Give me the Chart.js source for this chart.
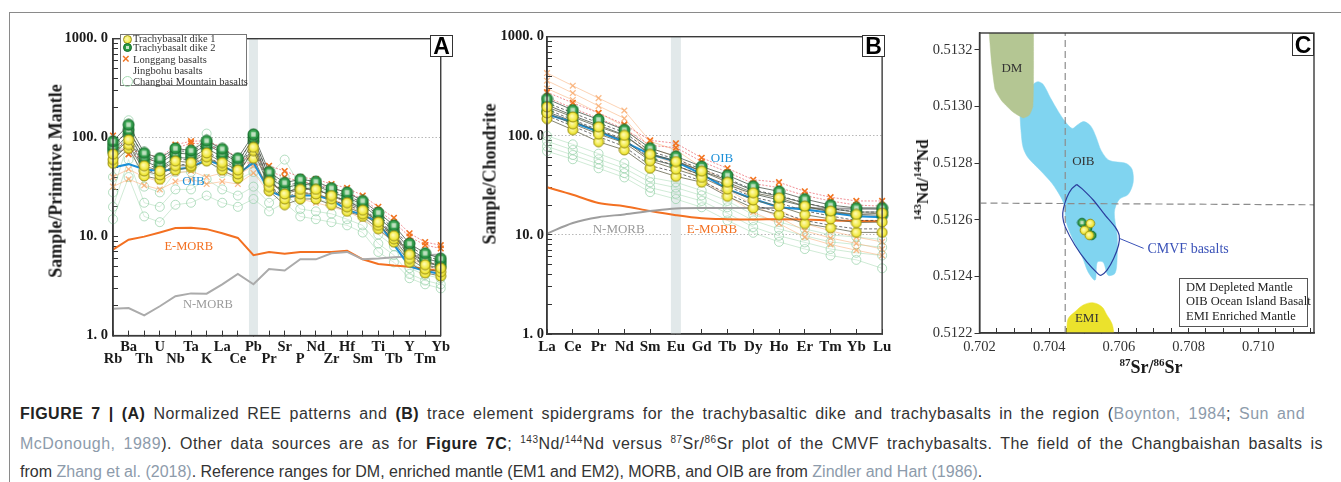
<!DOCTYPE html>
<html>
<head>
<meta charset="utf-8">
<script src="https://cdn.jsdelivr.net/npm/chart.js@4.4.1/dist/chart.umd.min.js"></script>
<style>
  body { margin: 0; width: 1341px; height: 482px; background: #fff; position: relative; overflow: hidden; font-family: "Liberation Serif", serif; }
  .abs { position: absolute; }
  canvas { position: absolute; }
  #frame { left: 9px; top: 12px; right: 0; bottom: 0; border-left: 1px solid #8a8a8a; border-top: 1px solid #8a8a8a; }
  .ytitle { position: absolute; font: bold 18px "Liberation Serif", serif; color: #1a1a1a; white-space: nowrap; transform: translate(-50%, -50%) rotate(-90deg); }
  .xtitle { position: absolute; font: bold 18px "Liberation Serif", serif; color: #1a1a1a; white-space: nowrap; transform: translate(-50%, -50%); }
  .ytitle sup, .xtitle sup { font-size: 11px; line-height: 0; }
  .letter { position: absolute; border: 1px solid #333; background: #fff; font: bold 23px "Liberation Sans", Arial, sans-serif; color: #000; text-align: center; box-sizing: border-box; }
  #legA { left: 120px; top: 34px; width: 127px; height: 52px; border: 1px solid #777; background: #fff; box-sizing: border-box; font-size: 10.5px; color: #333; }
  #legA .row { position: absolute; left: 12px; line-height: 10px; white-space: nowrap; }
  #legA .mk { position: absolute; box-sizing: border-box; }
  #legC { left: 1179px; top: 278px; width: 129px; height: 49px; border: 1px solid #555; background: #fff; box-sizing: border-box; font-size: 12.5px; color: #222; }
  #legC div { position: absolute; left: 6px; white-space: nowrap; line-height: 14px; }
  .cap { position: absolute; left: 20px; font: 16px "Liberation Sans", Arial, sans-serif; color: #333; line-height: 29px; white-space: nowrap; }
  .cap b { color: #222; }
  .cap .ref { color: #8d9bab; }
  .cap sup { font-size: 10px; line-height: 0; }
</style>
</head>
<body>
<div id="frame" class="abs"></div>

<canvas id="cA" width="450" height="360" style="left:10px;top:20px"></canvas>
<canvas id="cB" width="440" height="360" style="left:460px;top:20px"></canvas>
<canvas id="cC" width="441" height="360" style="left:900px;top:20px"></canvas>

<div class="ytitle" style="left:56px;top:181px">Sample/Primitive Mantle</div>
<div class="ytitle" style="left:490px;top:174px">Sample/Chondrite</div>
<div class="ytitle" style="left:923px;top:180px;font-size:17px"><sup>143</sup>Nd/<sup>144</sup>Nd</div>
<div class="xtitle" style="left:1151px;top:367px"><sup>87</sup>Sr/<sup>86</sup>Sr</div>

<div class="letter" style="left:430px;top:35px;width:23px;height:22px;line-height:21px">A</div>
<div class="letter" style="left:862px;top:35px;width:23px;height:22px;line-height:21px">B</div>
<div class="letter" style="left:1292px;top:33px;width:22px;height:23px;line-height:22px">C</div>

<div id="legA" class="abs">
  <span class="mk" style="left:2px;top:0px;width:9px;height:9px;border-radius:50%;background:radial-gradient(circle at 40% 40%,#fffab0,#ece21c);border:1px solid #9a9015"></span>
  <div class="row" style="top:-1px">Trachybasalt dike 1</div>
  <span class="mk" style="left:2px;top:8px;width:9px;height:9px;border-radius:50%;background:#2a9a44;border:1px solid #156a2a"></span>
  <span class="mk" style="left:5px;top:11px;width:3px;height:3px;background:#c8e6c8"></span>
  <div class="row" style="top:8px">Trachybasalt dike 2</div>
  <span class="mk" style="left:1px;top:17px;font:bold 13px 'Liberation Sans',sans-serif;color:#f27420;line-height:14px">×</span>
  <div class="row" style="top:20px">Longgang basalts</div>
  <div class="row" style="top:31px">Jingbohu basalts</div>
  <span class="mk" style="left:1px;top:41px;width:11px;height:11px;border-radius:50%;border:1px solid #a8dcb4"></span>
  <div class="row" style="top:42px">Changbai Mountain basalts</div>
</div>

<div id="legC" class="abs">
  <div style="top:1px">DM Depleted Mantle</div>
  <div style="top:15px">OIB Ocean Island Basalt</div>
  <div style="top:30px">EMI Enriched Mantle</div>
</div>

<div class="cap" id="cap1" style="top:399px"><b>FIGURE 7 | (A)</b> Normalized REE patterns and <b>(B)</b> trace element spidergrams for the trachybasaltic dike and trachybasalts in the region (<span class="ref">Boynton, 1984</span>; <span class="ref">Sun and</span></div>
<div class="cap" id="cap2" style="top:429px"><span class="ref">McDonough, 1989</span>). Other data sources are as for <b>Figure 7C</b>; <sup>143</sup>Nd/<sup>144</sup>Nd versus <sup>87</sup>Sr/<sup>86</sup>Sr plot of the CMVF trachybasalts. The field of the Changbaishan basalts is</div>
<div class="cap" id="cap3" style="top:457px">from <span class="ref">Zhang et al. (2018)</span>. Reference ranges for DM, enriched mantle (EM1 and EM2), MORB, and OIB are from <span class="ref">Zindler and Hart (1986)</span>.</div>

<script>
// ---- panel A: primitive-mantle normalised trace elements ----
const elemA = ['Rb','Ba','Th','U','Nb','Ta','K','La','Ce','Pb','Pr','Sr','P','Nd','Zr','Hf','Sm','Ti','Tb','Y','Tm','Yb'];

const dike1A = [
  [68,95,52,46,58,56,70,56,47,80,36,27,30,30,26,22,18.5,14,10.2,6.6,5.2,4.8],
  [60,85,46,42,52,52,64,52,43,74,32,24,27,27,24,20,17,13,9.5,6.0,4.7,4.4],
  [55,78,41,38,47,50,58,47,39,62,29,21,24,24,21,18,16,12,8.8,5.5,4.3,4.0]
];
const dike2A = [
  [92,135,70,62,78,74,93,77,62,108,45,35,38,36,31,28,23,17.5,13,8.5,6.8,6.0],
  [82,120,64,55,70,68,85,70,56,100,40,31,34,33,28,25,21,15.5,11.5,7.5,6.0,5.5],
  [74,108,58,50,63,62,78,64,50,92,36,28,31,30,26,23,19,14,10.5,6.8,5.5,5.0]
];
const longgangA = [
  [105,75,70,62,85,92,93,80,62,62,52,46,40,38,34,31,26,20,15.5,10.8,8.8,8.2],
  [88,68,62,56,78,88,86,72,55,56,46,40,36,34,31,28,24,18.5,14,10,8.2,7.6]
];
const longgangLightA = [
  [40,48,40,36,44,46,40,44,42,52,34,30,28,27,24,21,17,13,10,7,5.6,5.2],
  [32,38,33,30,36,38,34,36,34,44,28,26,24,22,20,18,15,11.5,9,6.2,5,4.6]
];
const jingbohuA = [
  [85,115,66,58,74,72,88,74,58,95,42,33,35,34,29,26,22,16.5,12,8,6.4,5.7],
  [70,100,55,48,60,60,72,60,48,85,37,28,31,30,26,23,19.5,14.5,10.8,7,5.6,5.1],
  [60,90,48,43,53,54,65,53,42,78,33,25,28,27,23,21,18,13.5,10,6.4,5.1,4.7]
];
const changbaiA = [
  [40,150,45,40,70,70,110,65,55,60,42,60,33,30,28,24,20,13,9.5,5.5,4.6,4.2],
  [28,95,32,28,45,45,60,44,38,45,30,40,25,24,22,19,16,10.5,8,4.8,4.1,3.8],
  [20,60,22,20,30,30,38,30,26,32,22,28,19,18,17,15,13,8.5,6.5,4.2,3.6,3.3],
  [15,40,16,14,21,22,26,22,20,24,18,22,16,15,14,13,11,7,5.5,3.8,3.3,3.0]
];
const oibA   = [50,54,48,46,48,50,60,52,43,56,29,25,26,26,23.5,18.6,16.6,14,8.3,5,4.5,4.2];
const emorbA = [7.4,9.3,10,11,12.2,12.3,11.9,10.8,9.7,6.5,7,6.7,7,7,7,7.2,5.9,5.3,5.1,4.95,4.7,4.5];
const nmorbA = [1.87,1.9,1.6,1.98,2.5,2.67,2.65,3.3,4.2,3.3,4.7,4.55,5.9,5.9,6.8,7,5.9,6,6.2,6.3,6.5,6.6];

// ---- panel B: chondrite normalised REE ----
const elemB = ['La','Ce','Pr','Nd','Sm','Eu','Gd','Tb','Dy','Ho','Er','Tm','Yb','Lu'];

const dike1B = [
  [195,155,123,101,65,55,44,34,26.6,23.7,19.5,17.4,16.1,16.6],
  [170,132,104,85,56,46,38,29,22.5,19.5,16,14.5,13.3,13.5],
  [149,115,87,72,47,39,34,24.5,18.7,16,13,11.8,10.6,10.6]
];
const dike2B = [
  [236,182,146,115,75,62,49,40,31,27.5,23,20,18.7,18.7],
  [205,160,128,102,66,56,44,36,28,24.5,21,18.3,17,17],
  [175,140,112,90,58,50,40,32,26,22.5,19.5,17,16,15.8]
];
const longgangB = [
  [275,215,170,130,90,84,60,47,36,34,27.5,24,22,22],
  [245,190,150,118,80,76,55,43,33,30,25,22,20,19.5]
];
const longgangLightB = [
  [430,320,240,180,88,72,48,34,24,18,13,11,9.5,8.5],
  [360,270,200,150,75,62,42,29,20,15,11,9.3,8.2,7.2],
  [300,230,170,125,65,52,36,25,17,13,9.5,8,7,6.2]
];
const jingbohuB = [
  [215,170,135,108,70,58,46,37,28.5,25,21,18.5,17,17],
  [185,145,115,92,60,50,40,31,24,21,17.5,15.5,14,14],
  [160,125,98,78,50,43,35,26,20,17,14,12.5,11.5,11.5]
];
const changbaiB = [
  [100,82,66,53,38,34,28,22,16,13.5,11.5,10,9.5,9],
  [88,72,58,47,34,30,25,19,14,11.5,9.8,8.5,8,7.5],
  [78,64,52,42,30,26,22,16.5,12,9.8,8.4,7.2,6.6,6.2],
  [70,58,47,38,27,23,19,14,10.5,8.5,7.2,6.2,5.6,4.6]
];
const oibB   = [165,137,110,87,65,55,41,29,23,19,18,16.7,15.4,15.1];
const emorbB = [30.2,25.4,21,19.5,17.4,15.8,14.7,14.4,14.3,14.4,14.3,14,13.8,13.7];
const nmorbB = [10.3,13.2,15.1,16.1,17.4,18.5,18.7,18.7,18.7,18.7,18.6,18.5,18.4,18.3];

const logTicks = [1,2,3,4,5,6,7,8,9,10,20,30,40,50,60,70,80,90,100,200,300,400,500,600,700,800,900,1000];
const logLabels = {1:'1. 0', 10:'10. 0', 100:'100. 0', 1000:'1000. 0'};

// ---- panel C: Sr-Nd isotopes ----
const dmField = [[0.70228,0.51330],[0.70228,0.51326],[0.70235,0.51315],[0.70245,0.51306],[0.70264,0.51302],[0.70297,0.51298],
  [0.70326,0.51296],[0.70343,0.51297],[0.70353,0.51300],[0.70355,0.51309],[0.70355,0.51330]];
const oibField = [[0.70316,0.512975],[0.70337,0.513035],[0.70354,0.513078],[0.70368,0.513088],[0.70383,0.513078],[0.70403,0.513032],
  [0.70426,0.512983],[0.70446,0.512947],[0.70466,0.512923],[0.70483,0.512937],[0.70500,0.512947],[0.70520,0.51293],[0.70535,0.512891],
  [0.70549,0.512845],[0.70572,0.51281],[0.70621,0.512799],[0.70638,0.512778],[0.70641,0.512732],[0.70627,0.51269],[0.70601,0.512672],
  [0.70587,0.512627],[0.70595,0.512545],[0.70595,0.512464],[0.70589,0.512411],[0.70569,0.512404],[0.70555,0.51245],[0.70538,0.51245],
  [0.70532,0.512387],[0.70512,0.512415],[0.70495,0.512468],[0.70469,0.512528],[0.70449,0.512591],[0.70443,0.512651],[0.70434,0.512679],
  [0.70408,0.512729],[0.70374,0.512775],[0.70339,0.51282],[0.70325,0.512856],[0.70319,0.512916],[0.70316,0.512975]];
const emiField = [[0.70450,0.51218],[0.70451,0.512222],[0.70455,0.512252],[0.70474,0.512275],[0.70498,0.512299],[0.70525,0.512307],
  [0.70551,0.512293],[0.70566,0.512263],[0.70580,0.512234],[0.70585,0.512205],[0.70586,0.51218]];
const cmvfField = [[0.70479,0.512725],[0.70494,0.51271],[0.70527,0.512669],[0.70561,0.512616],[0.70589,0.512575],[0.70601,0.512545],
  [0.70599,0.51251],[0.70585,0.512463],[0.70566,0.512422],[0.70549,0.512404],[0.70541,0.512408],[0.70508,0.512451],[0.70474,0.51251],
  [0.70446,0.512575],[0.70439,0.51261],[0.70441,0.51264],[0.70451,0.51268],[0.70465,0.51271],[0.70479,0.512725]];
const cmvfLeader = [[0.70602,0.512534],[0.70671,0.512499]];
const dike1C = [[0.70518,0.512587],[0.70501,0.512563],[0.70515,0.512545]];
const dike2C = [[0.70494,0.51259],[0.70522,0.512545],[0.70510,0.51257]];
const srLine = [[0.70446,0.5122],[0.70446,0.51326]];
const ndLine = [[0.702,0.512659],[0.7116,0.512653]];
const cXTicks = [0.702,0.7025,0.703,0.7035,0.704,0.7045,0.705,0.7055,0.706,0.7065,0.707,0.7075,0.708,0.7085,0.709,0.7095,0.71,0.7105,0.711,0.7115];
const cXLabelled = [0.702,0.704,0.706,0.708,0.710];
const cYTicks = [0.5122,0.5124,0.5126,0.5128,0.5130,0.5132];

Chart.defaults.font.family = "'Liberation Serif', serif";

function ballImage(r, inner, edge, rim, square) {
  const s = Math.ceil(r * 2 + 2);
  const c = document.createElement('canvas');
  c.width = c.height = s;
  const g = c.getContext('2d');
  const grad = g.createRadialGradient(s * 0.42, s * 0.42, 0.5, s / 2, s / 2, r);
  grad.addColorStop(0, inner);
  grad.addColorStop(1, edge);
  g.beginPath();
  g.arc(s / 2, s / 2, r, 0, Math.PI * 2);
  g.fillStyle = grad;
  g.fill();
  g.lineWidth = 1;
  g.strokeStyle = rim;
  g.stroke();
  if (square) {
    const q = r * 0.8;
    g.fillStyle = square;
    g.fillRect(s / 2 - q / 2, s / 2 - q / 2, q, q);
  }
  return c;
}
const yellowBig = ballImage(5, '#fffbb0', '#ebe11a', '#9a9015');
const greenBig = ballImage(5.5, '#5cc070', '#1f8a3a', '#156a2a', '#bfe0c0');
const yellowSmall = ballImage(4.3, '#fffbb0', '#ebe11a', '#9a9015');
const greenSmall = ballImage(4.3, '#5cc070', '#1f8a3a', '#156a2a', '#bfe0c0');

const bandPlugin = {
  id: 'band',
  beforeDatasetsDraw(chart, args, opts) {
    if (opts.at == null) return;
    const {ctx, chartArea} = chart;
    const x = chart.scales.x.getPixelForValue(opts.at);
    ctx.save();
    ctx.fillStyle = '#e2e9ea';
    ctx.fillRect(x - opts.width / 2, chartArea.top, opts.width, chartArea.bottom - chartArea.top);
    ctx.restore();
  }
};
const notesPlugin = {
  id: 'notes',
  afterDatasetsDraw(chart, args, opts) {
    const {ctx} = chart;
    (opts.items || []).forEach(n => {
      ctx.save();
      ctx.font = n.font;
      ctx.fillStyle = n.color;
      ctx.textAlign = n.align || 'center';
      ctx.textBaseline = 'middle';
      ctx.fillText(n.text, chart.scales.x.getPixelForValue(n.x), chart.scales.y.getPixelForValue(n.y));
      ctx.restore();
    });
  }
};
const framePlugin = {
  id: 'frame',
  afterDraw(chart) {
    const {ctx, chartArea: a} = chart;
    ctx.save();
    ctx.strokeStyle = '#3a3a3a';
    ctx.lineWidth = 1.4;
    ctx.strokeRect(a.left, a.top, a.right - a.left, a.bottom - a.top);
    ctx.restore();
  }
};

const styles = {
  chang: {borderColor: 'rgba(150,210,165,0.45)', borderWidth: 1, pointStyle: 'circle', pointRadius: 4.5,
          pointBackgroundColor: 'rgba(255,255,255,0.15)', pointBorderColor: 'rgba(140,205,160,0.65)', pointBorderWidth: 1, order: 8},
  longL: {borderColor: 'rgba(250,175,120,0.55)', borderWidth: 1, pointStyle: 'crossRot', pointRadius: 4,
          pointBorderColor: 'rgba(248,160,90,0.7)', pointBorderWidth: 1.3, order: 7},
  long:  {borderColor: 'rgba(232,70,80,0.6)', borderWidth: 1, borderDash: [2, 1.5], pointStyle: 'crossRot', pointRadius: 4,
          pointBorderColor: '#f27420', pointBorderWidth: 1.6, order: 5},
  jing:  {borderColor: '#333', borderWidth: 0.7, borderDash: [3, 2], pointRadius: 0, order: 4},
  dike2: {borderColor: '#4a564a', borderWidth: 0.8, pointRadius: 5, order: 1},
  dike1: {borderColor: '#66664e', borderWidth: 0.8, pointRadius: 5, order: 0}
};

function group(rows, style, extra) {
  return rows.map(d => Object.assign({data: d, fill: false, clip: 8}, style, extra || {}));
}
function refLine(data, color, order, smooth) {
  return {data: data, borderColor: color, borderWidth: 2, pointRadius: 0, fill: false, clip: 8, order: order,
          cubicInterpolationMode: smooth ? 'monotone' : 'default', tension: smooth ? 0.4 : 0};
}

function spiderOptions(cfg) {
  return {
    responsive: false,
    animation: false,
    layout: {padding: {left: 0, right: cfg.padR, top: cfg.padT, bottom: 0}},
    plugins: {
      legend: {display: false},
      tooltip: {enabled: false},
      band: {at: cfg.bandAt, width: cfg.bandW},
      notes: {items: cfg.notes}
    },
    scales: {
      x: {
        offset: false,
        grid: {drawOnChartArea: false, tickLength: -5, tickColor: '#333'},
        border: {color: '#333', width: 1.5},
        ticks: {autoSkip: false, maxRotation: 0, minRotation: 0, padding: cfg.xPad, color: '#1a1a1a',
                font: {weight: 'bold', size: cfg.xFont, lineHeight: cfg.xLH}, callback: cfg.xLabel},
        afterFit: s => { s.height = cfg.xH; }
      },
      y: {
        type: 'logarithmic', min: 1, max: 1000,
        afterBuildTicks: s => { s.ticks = logTicks.map(v => ({value: v})); },
        grid: {color: c => (c.tick && cfg.dotted.includes(c.tick.value)) ? '#b8b8b8' : 'rgba(0,0,0,0)',
               tickColor: '#333', tickLength: -5},
        border: {color: '#333', width: 1.5, dash: [1.5, 2]},
        ticks: {autoSkip: false, padding: cfg.yPad, color: '#1a1a1a', font: {weight: 'bold', size: 14.5},
                callback: v => logLabels[v] || ''},
        afterFit: s => { s.width = cfg.yW; }
      }
    }
  };
}

// Panel A
new Chart(document.getElementById('cA'), {
  type: 'line',
  data: {
    labels: elemA,
    datasets: [].concat(
      group(changbaiA, styles.chang),
      group(longgangLightA, styles.longL),
      refLine(nmorbA, '#ababab', 6, false),
      refLine(emorbA, '#f37021', 6, false),
      group(longgangA, styles.long),
      group(jingbohuA, styles.jing),
      refLine(oibA, '#1b8fd8', 2, false),
      group(dike2A, styles.dike2, {pointStyle: greenBig}),
      group(dike1A, styles.dike1, {pointStyle: yellowBig})
    )
  },
  options: spiderOptions({
    padR: 7, padT: 14, xH: 44.4, yW: 103, xPad: 10, yPad: 10, xFont: 14.5, xLH: 0.86,
    xLabel: (v, i) => (i % 2 === 0 ? ['', elemA[i]] : elemA[i]),
    dotted: [100], bandAt: 9, bandW: 9,
    notes: [
      {text: 'OIB', x: 5.16, y: 36, color: '#1b8fd8', font: '13px "Liberation Serif"'},
      {text: 'E-MORB', x: 4.85, y: 7.97, color: '#f37021', font: '12.5px "Liberation Serif"'},
      {text: 'N-MORB', x: 6.08, y: 2.06, color: '#9a9a9a', font: '12.5px "Liberation Serif"'}
    ]
  }),
  plugins: [bandPlugin, notesPlugin, framePlugin]
});

// Panel B
new Chart(document.getElementById('cB'), {
  type: 'line',
  data: {
    labels: elemB,
    datasets: [].concat(
      group(changbaiB, styles.chang),
      group(longgangLightB, styles.longL),
      refLine(nmorbB, '#9e9e9e', 6, true),
      refLine(emorbB, '#f37021', 6, true),
      group(longgangB, styles.long),
      group(jingbohuB, styles.jing),
      refLine(oibB, '#1b8fd8', 2, false),
      group(dike2B, styles.dike2, {pointStyle: greenBig}),
      group(dike1B, styles.dike1, {pointStyle: yellowBig})
    )
  },
  options: spiderOptions({
    padR: 16, padT: 14, xH: 46, yW: 87, xPad: 8.7, yPad: 8, xFont: 15, xLH: 1.2,
    xLabel: (v, i) => elemB[i],
    dotted: [10, 100], bandAt: 5, bandW: 10,
    notes: [
      {text: 'OIB', x: 6.79, y: 59.3, color: '#1b8fd8', font: '13px "Liberation Serif"'},
      {text: 'N-MORB', x: 2.78, y: 11.4, color: '#9a9a9a', font: '13px "Liberation Serif"'},
      {text: 'E-MORB', x: 6.4, y: 11.4, color: '#f37021', font: '13px "Liberation Serif"'}
    ]
  }),
  plugins: [bandPlugin, notesPlugin, framePlugin]
});

// Panel C
const pts = arr => arr.map(p => ({x: p[0], y: p[1]}));
function field(arr, color, order, tension) {
  return {data: pts(arr), showLine: true, fill: 'shape', backgroundColor: color, borderColor: color, borderWidth: 0.5,
          pointRadius: 0, tension: tension, order: order};
}
new Chart(document.getElementById('cC'), {
  type: 'scatter',
  data: {
    datasets: [
      field(oibField, '#80d4f0', 10, 0.3),
      field(dmField, '#b4c693', 9, 0.15),
      field(emiField, '#ebe22c', 9, 0.35),
      {data: pts(srLine), showLine: true, borderColor: '#8c8c8c', borderWidth: 1.2, borderDash: [7, 4], pointRadius: 0, order: 5},
      {data: pts(ndLine), showLine: true, borderColor: '#8c8c8c', borderWidth: 1.2, borderDash: [7, 4], pointRadius: 0, order: 5},
      {data: pts(cmvfField), showLine: true, borderColor: '#2b3f9e', borderWidth: 1.2, pointRadius: 0, tension: 0.2, order: 3},
      {data: pts(cmvfLeader), showLine: true, borderColor: '#3a52b8', borderWidth: 1, pointRadius: 0, order: 3},
      {data: pts(dike2C), pointStyle: greenSmall, pointRadius: 4, order: 1},
      {data: pts(dike1C), pointStyle: yellowSmall, pointRadius: 4, order: 0}
    ]
  },
  options: {
    responsive: false,
    animation: false,
    layout: {padding: {left: 0, right: 27, top: 13, bottom: 0}},
    plugins: {
      legend: {display: false},
      tooltip: {enabled: false},
      notes: {items: [
        {text: 'DM', x: 0.70293, y: 0.513133, color: '#333', font: '13px "Liberation Serif"'},
        {text: 'OIB', x: 0.70498, y: 0.512807, color: '#333', font: '13px "Liberation Serif"'},
        {text: 'EMI', x: 0.70508, y: 0.512252, color: '#333', font: '13px "Liberation Serif"'},
        {text: 'CMVF basalts', x: 0.70682, y: 0.512496, color: '#3a52b8', font: '14px "Liberation Serif"', align: 'left'}
      ]}
    },
    scales: {
      x: {
        type: 'linear', min: 0.702, max: 0.7116,
        afterBuildTicks: s => { s.ticks = cXTicks.map(v => ({value: v})); },
        grid: {drawOnChartArea: false, tickLength: -5, tickColor: '#333'},
        border: {color: '#333', width: 1.5},
        ticks: {autoSkip: false, maxRotation: 0, padding: 10, color: '#333', font: {size: 14.5},
                callback: v => cXLabelled.some(t => Math.abs(t - v) < 1e-9) ? v.toFixed(3) : ''},
        afterFit: s => { s.height = 47; }
      },
      y: {
        type: 'linear', min: 0.5122, max: 0.51326,
        afterBuildTicks: s => { s.ticks = cYTicks.map(v => ({value: v})); },
        grid: {drawOnChartArea: false, tickLength: 5, tickColor: '#333'},
        border: {color: '#333', width: 1.5},
        ticks: {autoSkip: false, padding: 2, color: '#333', font: {size: 14.5}, callback: v => v.toFixed(4)},
        afterFit: s => { s.width = 79.5; }
      }
    }
  },
  plugins: [notesPlugin, framePlugin]
});

// caption: first two lines are justified in the figure; split the slack between letters and word gaps
[['cap1', 1285], ['cap2', 1303]].forEach(([id, target]) => {
  const el = document.getElementById(id);
  const w = el.getBoundingClientRect().width;
  const n = el.textContent.length;
  const gaps = (el.textContent.match(/ /g) || []).length;
  const extra = Math.max(0, target - w);
  el.style.letterSpacing = (extra * 0.5 / n).toFixed(3) + 'px';
  el.style.wordSpacing = (extra * 0.5 / gaps).toFixed(3) + 'px';
});
</script>
</body>
</html>
